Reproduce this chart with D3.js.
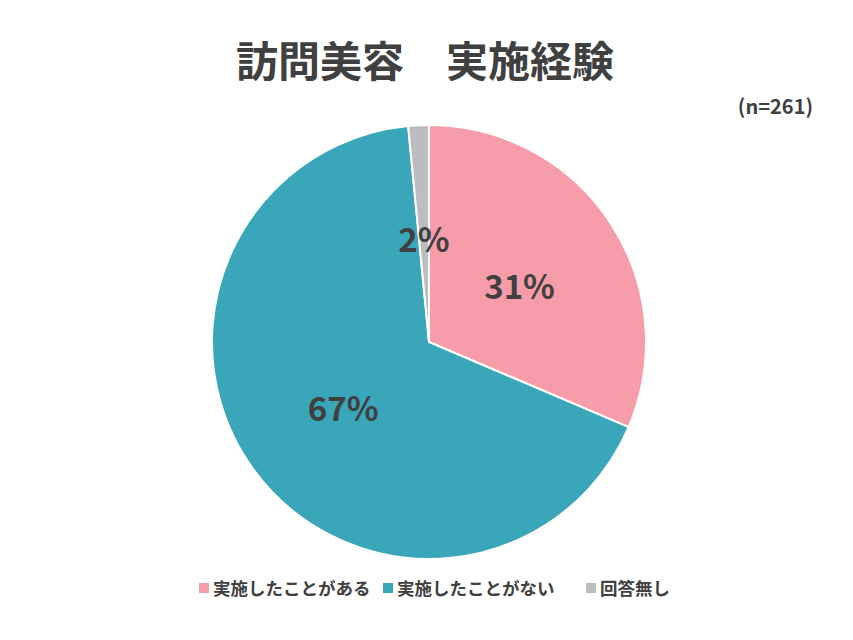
<!DOCTYPE html>
<html>
<head>
<meta charset="utf-8">
<title>訪問美容 実施経験</title>
<script src="https://d3js.org/d3.v7.min.js"></script>
<style>
  body { margin: 0; background: #fff; }
  svg text { font-family: "Noto Sans CJK JP", "Noto Sans", sans-serif; font-weight: 700; fill: #404040; }
</style>
</head>
<body>
<svg id="chart"></svg>
<script>
// data
const categories = ["実施したことがある", "実施したことがない", "回答無し"];
const counts = [82, 175, 4];
const pctLabels = ["31%", "67%", "2%"];
const colors = ["#F79DAA", "#3AA6B9", "#BDBDBD"];

const width = 853, height = 640;
const cx = 429, cy = 342, radius = 217;

const svg = d3.select("#chart")
    .attr("width", width)
    .attr("height", height);

svg.append("text")
    .attr("x", 425)
    .attr("y", 77)
    .attr("text-anchor", "middle")
    .style("font-size", "42px")
    .text("訪問美容　実施経験");

svg.append("text")
    .attr("x", 813)
    .attr("y", 114)
    .attr("text-anchor", "end")
    .style("font-size", "20px")
    .text("(n=261)");

const pie = d3.pie().sort(null).value(d => d);
const arc = d3.arc().innerRadius(0).outerRadius(radius);

const g = svg.append("g").attr("transform", "translate(" + cx + "," + cy + ")");
const arcs = pie(counts);

g.selectAll("path")
    .data(arcs)
    .enter()
    .append("path")
    .attr("d", arc)
    .attr("fill", (d, i) => colors[i])
    .attr("stroke", "#fff")
    .attr("stroke-width", 2);

// label positions (fraction of radius)
const labelR = [0.50, 0.49, 0.49];
g.selectAll(".pct")
    .data(arcs)
    .enter()
    .append("text")
    .attr("class", "pct")
    .attr("transform", (d, i) => {
        const a = (d.startAngle + d.endAngle) / 2;
        const r = radius * labelR[i];
        return "translate(" + (Math.sin(a) * r) + "," + (-Math.cos(a) * r + 5) + ")";
    })
    .attr("text-anchor", "middle")
    .attr("dy", "0.35em")
    .style("font-size", "33px")
    .text((d, i) => pctLabels[i]);

// legend
const legendX = [199, 383, 586];
const legend = svg.append("g");
categories.forEach((c, i) => {
    legend.append("rect")
        .attr("x", legendX[i])
        .attr("y", 583)
        .attr("width", 10)
        .attr("height", 10)
        .attr("fill", colors[i]);
    legend.append("text")
        .attr("x", legendX[i] + 14)
        .attr("y", 595)
        .style("font-size", "17.5px")
        .text(c);
});
</script>
</body>
</html>
